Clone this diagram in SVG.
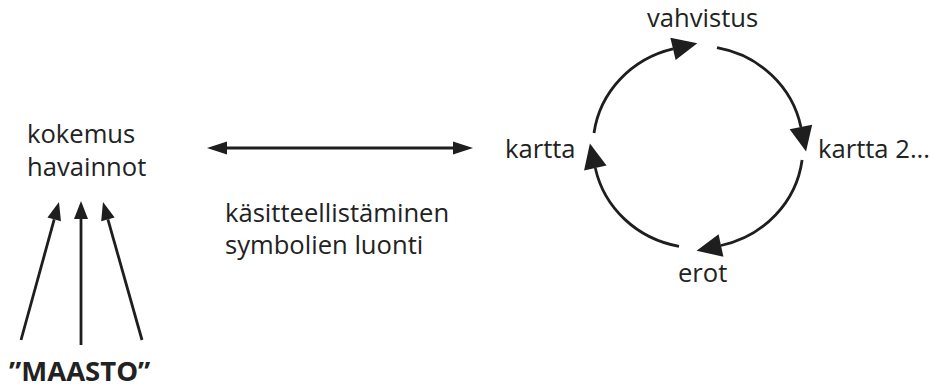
<svg xmlns="http://www.w3.org/2000/svg" width="931" height="388" viewBox="0 0 931 388">
  <style>
    .lbl { font-family: "Open Sans", "Noto Sans", sans-serif; font-size: 25.6px; fill: #222; }
    .bold { font-weight: bold; font-size: 27.5px; }
    .ln { stroke: #1e1e1e; stroke-width: 2.8; fill: none; }
  </style>
  <defs>
    <marker id="headS" markerUnits="userSpaceOnUse" markerWidth="20" markerHeight="16" refX="0" refY="7" orient="auto" overflow="visible">
      <path d="M0,0 L18,7 L0,14 z" fill="#1e1e1e"/>
    </marker>
    <marker id="headM" markerUnits="userSpaceOnUse" markerWidth="22" markerHeight="14" refX="0" refY="6.5" orient="auto-start-reverse" overflow="visible">
      <path d="M0,0 L20,6.5 L0,13 z" fill="#1e1e1e"/>
    </marker>
    <marker id="headL" markerUnits="userSpaceOnUse" markerWidth="26" markerHeight="24" refX="0" refY="11.5" orient="auto" overflow="visible">
      <path d="M0,0 L25,11.5 L0,23 z" fill="#1e1e1e"/>
    </marker>
  </defs>

  <g id="kokemus">
    <text class="lbl" x="27" y="143">kokemus</text>
    <text class="lbl" x="27" y="176">havainnot</text>
  </g>

  <g id="maasto">
    <text class="lbl bold" x="9" y="381">”MAASTO”</text>
  </g>

  <g id="kasitteellistaminen">
    <text class="lbl" x="225" y="222">käsitteellistäminen</text>
    <text class="lbl" x="225" y="254">symbolien luonti</text>
  </g>

  <g id="vahvistus">
    <text class="lbl" x="647" y="27">vahvistus</text>
  </g>
  <g id="kartta">
    <text class="lbl" x="505" y="158">kartta</text>
  </g>
  <g id="kartta2">
    <text class="lbl" x="818" y="158">kartta 2...</text>
  </g>
  <g id="erot">
    <text class="lbl" x="678" y="282">erot</text>
  </g>

  <g id="connectors">
    <!-- field observations rising to experience -->
    <line class="ln" x1="21" y1="340" x2="54.2" y2="219.4" marker-end="url(#headS)"/>
    <line class="ln" x1="81" y1="345" x2="81" y2="219" marker-end="url(#headS)"/>
    <line class="ln" x1="142" y1="340" x2="107.9" y2="219.3" marker-end="url(#headS)"/>
    <!-- two-way link -->
    <line class="ln" x1="227" y1="148" x2="453" y2="148" marker-start="url(#headM)" marker-end="url(#headM)"/>
    <!-- map cycle -->
    <path class="ln" d="M594,133 A105,101 0 0 1 673,48.9" marker-end="url(#headL)"/>
    <path class="ln" d="M717,47.7 A105,101 0 0 1 800.9,127" marker-end="url(#headL)"/>
    <path class="ln" d="M802.1,160 A105,101 0 0 1 721,245.5" marker-end="url(#headL)"/>
    <path class="ln" d="M679,246.3 A105,101 0 0 1 595.3,168" marker-end="url(#headL)"/>
  </g>
</svg>
